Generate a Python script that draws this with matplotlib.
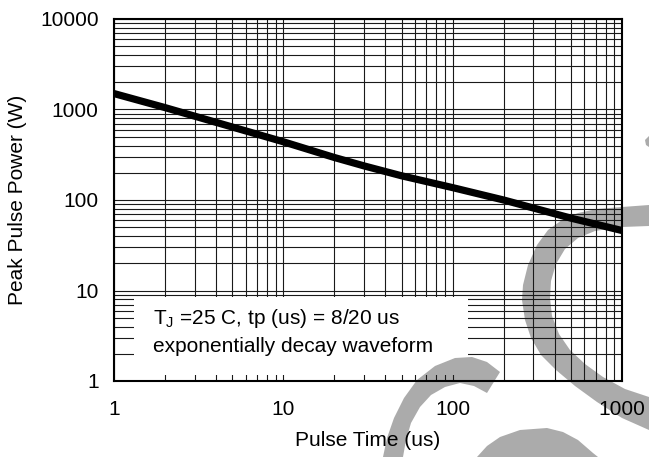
import matplotlib
matplotlib.use('Agg')
import matplotlib.pyplot as plt
from matplotlib.patches import Polygon, Rectangle
from matplotlib.ticker import LogLocator, NullFormatter

plt.rcParams['font.family'] = ['Liberation Sans', 'DejaVu Sans']
plt.rcParams['font.size'] = 15

# curve
pulse_time = [1, 2, 5, 10, 20, 30, 50, 100, 200, 500, 1000]           # us
peak_power = [1500, 1050, 640, 440, 295, 238, 185, 137, 100, 63, 46]  # W

x_ticks = [1, 10, 100, 1000]
y_ticks = [1, 10, 100, 1000, 10000]
note_lines = ['T$_{\\mathregular{J}}$ =25 C, tp (us) = 8/20 us',
              'exponentially decay waveform']

W, H = 649, 457
GRAY = '#ababab'

# watermark outlines, in image pixels (y down)
swoosh_big = [(649, 205), (622, 207), (597, 209), (578, 213), (562, 220), (548, 230),
              (537, 245), (528, 265), (523, 285), (522, 300), (525, 320), (531, 338),
              (541, 355), (556, 370), (575, 386), (597, 402), (622, 418), (649, 430),
              (649, 397), (625, 389), (603, 377), (585, 364), (570, 350), (559, 334),
              (552, 316), (550, 298), (551, 281), (556, 264), (565, 249), (578, 238),
              (595, 231), (622, 227), (649, 226)]
swoosh_low = [(381, 460), (383, 457), (387, 438), (394, 418), (404, 398), (417, 380),
              (435, 366), (455, 358), (472, 357), (487, 362), (500, 372), (487, 393),
              (474, 386), (460, 383), (445, 387), (431, 395), (420, 407), (411, 423),
              (406, 440), (403, 457), (403, 460)]
swoosh_dome = [(474, 460), (477, 457), (487, 446), (500, 437), (520, 430), (547, 428),
               (563, 432), (578, 440), (593, 453), (598, 457), (600, 460)]
swoosh_tip = [(645, 140), (649, 136), (649, 147), (646, 145)]


def to_fig(pts):
    return [(x / W, 1 - y / H) for x, y in pts]


fig = plt.figure(figsize=(W / 100, H / 100), dpi=100)
ax = fig.add_axes([114 / W, 1 - 381 / H, (622 - 114) / W, (381 - 19) / H])
ax.set_xscale('log')
ax.set_yscale('log')
ax.set_xlim(1, 1000)
ax.set_ylim(1, 10000)
ax.set_xticks(x_ticks, [str(v) for v in x_ticks])
ax.set_yticks(y_ticks, [str(v) for v in y_ticks])
for axis in (ax.xaxis, ax.yaxis):
    axis.set_minor_locator(LogLocator(base=10, subs=range(2, 10)))
    axis.set_minor_formatter(NullFormatter())
ax.tick_params(which='both', length=0)
ax.tick_params(axis='x', pad=14)
ax.tick_params(axis='y', pad=11)
ax.set_axisbelow(True)
ax.grid(True, which='both', color='#1a1a1a', lw=0.8)
for s in ax.spines.values():
    s.set_linewidth(1.5)
    s.set_color('black')

# watermark under the grid
shapes = [swoosh_big, swoosh_low, swoosh_dome, swoosh_tip]
for pts in shapes:
    ax.add_patch(Polygon(to_fig(pts), closed=True, transform=fig.transFigure,
                         facecolor=GRAY, edgecolor='none', zorder=0.2, clip_on=False))

# white note box hiding the grid
box = Rectangle((1.31, 1.16), 123 - 1.31, 8.5 - 1.16, facecolor='white',
                edgecolor='none', zorder=1)
ax.add_patch(box)
for pts in shapes:
    p = Polygon(to_fig(pts), closed=True, transform=fig.transFigure,
                facecolor=GRAY, edgecolor='none', zorder=1.1)
    ax.add_patch(p)
    p.set_clip_path(box)

ax.plot(pulse_time, peak_power, color='black', lw=5.2, solid_capstyle='butt',
        solid_joinstyle='round', zorder=3)

ax.text((153 - 114) / 508, (381 - 318) / 362, note_lines[0], transform=ax.transAxes,
        va='center', ha='left', zorder=4)
ax.text((153 - 114) / 508, (381 - 346) / 362, note_lines[1], transform=ax.transAxes,
        va='center', ha='left', zorder=4)

ax.set_xlabel('Pulse Time (us)')
ax.set_ylabel('Peak Pulse Power (W)')
ax.xaxis.set_label_coords(0.5, (381 - 440) / 362)
ax.xaxis.label.set_va('center')
ax.yaxis.set_label_coords((18 - 114) / 508, 0.5)
ax.yaxis.label.set_va('center')

fig.savefig('out.png', dpi=100)
